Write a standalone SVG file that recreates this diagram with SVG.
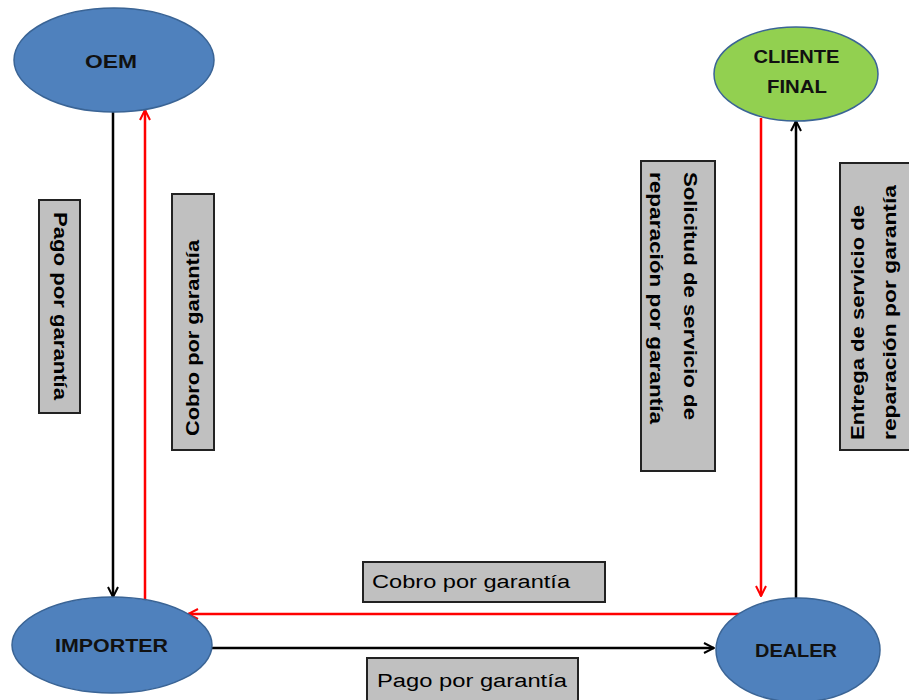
<svg xmlns="http://www.w3.org/2000/svg" width="909" height="700" viewBox="0 0 909 700">
<defs>
<style>
.node-blue{fill:#4F81BD;stroke:#3A6495;stroke-width:1.5}
.node-green{fill:#92D050;stroke:#3A6495;stroke-width:1.5}
.ntext{font-family:"Liberation Sans",Arial,sans-serif;font-size:19px;font-weight:bold;fill:#111;text-anchor:middle;dominant-baseline:central}
.lbox{fill:#C0C0C0;stroke:#222;stroke-width:2}
.ltext{font-family:"Liberation Sans",Arial,sans-serif;font-size:18px;fill:#000}
.vb{font-weight:bold;dominant-baseline:central}
.blk{stroke:#000;stroke-width:2.5;fill:none}
.red{stroke:#FF0000;stroke-width:2.5;fill:none}
</style>
<marker id="ab" viewBox="0 0 12 12" refX="11" refY="6" markerWidth="12" markerHeight="12" markerUnits="userSpaceOnUse" orient="auto">
<path d="M1,1 L11,6 L1,11" fill="none" stroke="#000" stroke-width="2"/>
</marker>
<marker id="ar" viewBox="0 0 12 12" refX="11" refY="6" markerWidth="12" markerHeight="12" markerUnits="userSpaceOnUse" orient="auto">
<path d="M1,1 L11,6 L1,11" fill="none" stroke="#FF0000" stroke-width="2"/>
</marker>
</defs>
<rect width="909" height="700" fill="#fff"/>

<g id="connectors">
<line class="blk" x1="113" y1="112" x2="113" y2="597" marker-end="url(#ab)"/>
<line class="red" x1="145" y1="600" x2="145" y2="110" marker-end="url(#ar)"/>
<line class="red" x1="761" y1="118" x2="761" y2="596" marker-end="url(#ar)"/>
<line class="blk" x1="796" y1="600" x2="796" y2="121" marker-end="url(#ab)"/>
<line class="red" x1="740" y1="614" x2="188" y2="614" stroke-width="3" marker-end="url(#ar)"/>
<line class="blk" x1="212" y1="648" x2="714" y2="648" stroke-width="3" marker-end="url(#ab)"/>
</g>

<g id="label-pago-v">
<rect class="lbox" x="39" y="200" width="41" height="213"/>
<text class="ltext vb" transform="translate(59.5,212) rotate(90)" textLength="188" lengthAdjust="spacingAndGlyphs">Pago por garantía</text>
</g>
<g id="label-cobro-v">
<rect class="lbox" x="172" y="194" width="42" height="256"/>
<text class="ltext vb" transform="translate(193,436) rotate(-90)" textLength="196" lengthAdjust="spacingAndGlyphs">Cobro por garantía</text>
</g>
<g id="label-solicitud">
<rect class="lbox" x="641" y="161" width="74" height="310"/>
<text class="ltext vb" transform="translate(690,172) rotate(90)" textLength="248" lengthAdjust="spacingAndGlyphs">Solicitud de servicio de</text>
<text class="ltext vb" transform="translate(656,172) rotate(90)" textLength="252" lengthAdjust="spacingAndGlyphs">reparación por garantía</text>
</g>
<g id="label-entrega">
<rect class="lbox" x="840" y="163" width="80" height="287"/>
<text class="ltext vb" transform="translate(858,440) rotate(-90)" textLength="235" lengthAdjust="spacingAndGlyphs">Entrega de servicio de</text>
<text class="ltext vb" transform="translate(890,440) rotate(-90)" textLength="255" lengthAdjust="spacingAndGlyphs">reparación por garantía</text>
</g>
<g id="label-cobro-h">
<rect class="lbox" x="363" y="562" width="242" height="40"/>
<text class="ltext" x="372" y="588" textLength="198" lengthAdjust="spacingAndGlyphs">Cobro por garantía</text>
</g>
<g id="label-pago-h">
<rect class="lbox" x="367" y="658" width="211" height="50"/>
<text class="ltext" x="377" y="687" textLength="190" lengthAdjust="spacingAndGlyphs">Pago por garantía</text>
</g>

<g id="node-oem">
<ellipse class="node-blue" cx="114" cy="60" rx="100" ry="52"/>
<text class="ntext" x="111" y="61" textLength="52" lengthAdjust="spacingAndGlyphs">OEM</text>
</g>
<g id="node-cliente">
<ellipse class="node-green" cx="796" cy="74" rx="82" ry="47"/>
<text class="ntext" x="796.5" y="56" textLength="86" lengthAdjust="spacingAndGlyphs">CLIENTE</text>
<text class="ntext" x="797" y="86" textLength="60" lengthAdjust="spacingAndGlyphs">FINAL</text>
</g>
<g id="node-importer">
<ellipse class="node-blue" cx="112" cy="645" rx="100" ry="48"/>
<text class="ntext" x="111.5" y="645" textLength="113" lengthAdjust="spacingAndGlyphs">IMPORTER</text>
</g>
<g id="node-dealer">
<ellipse class="node-blue" cx="798" cy="650" rx="82" ry="52"/>
<text class="ntext" x="796" y="650" textLength="82" lengthAdjust="spacingAndGlyphs">DEALER</text>
</g>
</svg>
